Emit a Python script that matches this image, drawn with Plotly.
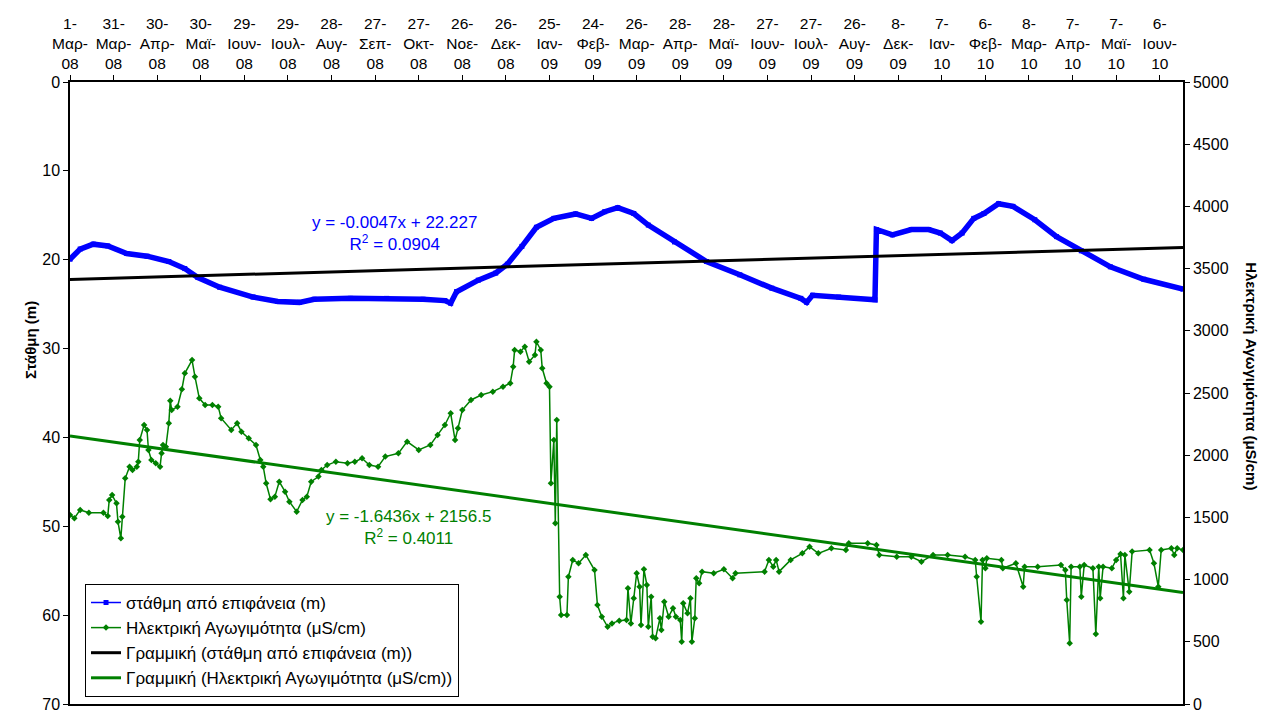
import plotly.graph_objects as go

# x = day index (Excel category index, 1 point per day)
tick_labels = ["1-Μαρ-08", "31-Μαρ-08", "30-Απρ-08", "30-Μαϊ-08", "29-Ιουν-08", "29-Ιουλ-08",
               "28-Αυγ-08", "27-Σεπ-08", "27-Οκτ-08", "26-Νοε-08", "26-Δεκ-08", "25-Ιαν-09",
               "24-Φεβ-09", "26-Μαρ-09", "28-Απρ-09", "28-Μαϊ-09", "27-Ιουν-09", "27-Ιουλ-09",
               "26-Αυγ-09", "8-Δεκ-09", "7-Ιαν-10", "6-Φεβ-10", "8-Μαρ-10", "7-Απρ-10",
               "7-Μαϊ-10", "6-Ιουν-10"]
tick_days = [1, 31, 61, 91, 121, 151, 181, 211, 241, 271, 301, 331, 361,
             391, 421, 451, 481, 511, 541, 571, 601, 631, 661, 691, 721, 751]

level_day = [1, 8, 17, 27, 40, 54, 69, 80, 89, 104, 127, 144, 159, 169, 194, 219, 244, 259,
             263, 267, 282, 294, 302, 312, 322, 334, 349, 360, 369, 378, 389, 399, 417, 439,
             462, 484, 504, 508, 512, 530, 555, 556, 567, 580, 592, 600, 608, 615, 623, 630,
             640, 650, 665, 680, 697, 717, 740, 767]
level_m = [19.95, 18.8, 18.25, 18.45, 19.3, 19.6, 20.2, 21.0, 22.0, 23.1, 24.2, 24.7, 24.8, 24.45,
           24.35, 24.35, 24.45, 24.6, 24.9, 23.6, 22.3, 21.5, 20.5, 18.5, 16.35, 15.35, 14.85,
           15.35, 14.6, 14.15, 14.8, 16.1, 18.0, 20.2, 21.7, 23.2, 24.35, 24.8, 24.0, 24.2, 24.5,
           16.6, 17.2, 16.6, 16.6, 17.0, 17.85, 17.0, 15.35, 14.8, 13.7, 14.0, 15.5, 17.4, 19.0,
           20.8, 22.2, 23.3]

ec_day = [1, 4, 8, 14, 24, 27, 28, 30, 33, 34, 36, 37, 39, 42, 44, 47, 48, 49, 52, 54, 55, 57,
          60, 63, 64, 65, 67, 69, 70, 71, 75, 78, 80, 85, 87, 90, 94, 99, 103, 105, 112, 116,
          119, 124, 129, 132, 134, 136, 139, 142, 145, 149, 152, 157, 161, 164, 167, 172, 174,
          178, 184, 192, 197, 202, 207, 213, 218, 227, 233, 241, 249, 254, 259, 263, 266, 268,
          271, 277, 284, 292, 299, 304, 306, 307, 311, 314, 317, 321, 322, 325, 326, 329, 331,
          332, 334, 335, 336, 338, 339, 343, 344, 347, 351, 356, 362, 364, 367, 371, 374, 379,
          384, 385, 387, 389, 391, 393, 394, 396, 398, 399, 401, 402, 404, 407, 408, 410, 413,
          416, 418, 421, 422, 423, 426, 428, 429, 431, 432, 434, 436, 444, 451, 457, 459, 479,
          482, 485, 487, 489, 497, 505, 510, 516, 525, 535, 537, 550, 556, 558, 570, 580, 587,
          595, 605, 617, 624, 625, 628, 629, 631, 632, 642, 643, 652, 657, 658, 667, 683, 686,
          687, 689, 690, 696, 697, 699, 705, 707, 709, 710, 712, 718, 721, 724, 726, 727, 730,
          732, 744, 747, 750, 752, 759, 761, 763, 767]
ec_us = [1519, 1493, 1560, 1538, 1538, 1511, 1640, 1680, 1613, 1466, 1332, 1506, 1814, 1908,
         1881, 1908, 1948, 2122, 2243, 2203, 2042, 1962, 1935, 1908, 2015, 2082, 2068, 2256, 2438,
         2363, 2390, 2530, 2658, 2765, 2631, 2457, 2404, 2404, 2390, 2297, 2203, 2256, 2189, 2136,
         2082, 1962, 1908, 1774, 1645, 1667, 1787, 1707, 1626, 1546, 1640, 1667, 1787, 1828, 1881,
         1921, 1948, 1935, 1948, 1975, 1921, 1908, 1989, 2015, 2109, 2042, 2082, 2163, 2243, 2337,
         2122, 2216, 2363, 2444, 2484, 2511, 2551, 2578, 2712, 2846, 2832, 2872, 2752, 2806, 2912,
         2846, 2699, 2578, 2551, 1774, 2122, 1453, 2283, 862, 715, 715, 1023, 1158, 1131, 1198,
         1077, 796, 702, 621, 648, 670, 675, 930, 648, 850, 1051, 943, 635, 1083, 957, 621, 862,
         541, 528, 689, 595, 822, 702, 769, 702, 675, 501, 809, 729, 850, 501, 689, 1010, 970,
         1064, 1051, 1083, 1010, 1051, 1064, 1158, 1104, 1158, 1064, 1158, 1211, 1265, 1211,
         1252, 1238, 1292, 1292, 1278, 1198, 1184, 1184, 1144, 1198, 1198, 1184, 1158, 1023, 662,
         1158, 1091, 1171, 1158, 1091, 1131, 943, 1104, 1104, 1117, 1077, 836, 488, 1104, 1104,
         862, 1117, 1091, 563, 1104, 850, 1104, 1091, 1158, 1206, 850, 1198, 903, 1225, 1238,
         1131, 943, 1238, 1252, 1198, 1252, 1238]

# trendline equations as printed on the chart
lvl_slope, lvl_icpt = -0.0047, 22.227
ec_slope, ec_icpt = -1.6436, 2156.5
n_days = 767

FONT = "Liberation Sans, Arial, sans-serif"
BLUE = "#0000FF"
GREEN = "#008000"

fig = go.Figure()

fig.add_trace(go.Scatter(x=level_day, y=level_m, mode="lines+markers", showlegend=False,
                         line=dict(color=BLUE, width=5.5),
                         marker=dict(symbol="square", size=5, color=BLUE)))
fig.add_trace(go.Scatter(x=[None], y=[None], mode="lines+markers", name="στάθμη από επιφάνεια (m)",
                         line=dict(color=BLUE, width=1.5),
                         marker=dict(symbol="square", size=5, color=BLUE)))
fig.add_trace(go.Scatter(x=ec_day, y=ec_us, yaxis="y2", mode="lines+markers",
                         name="Ηλεκτρική Αγωγιμότητα (μS/cm)",
                         line=dict(color=GREEN, width=1.5),
                         marker=dict(symbol="diamond", size=5, color=GREEN)))
fig.add_trace(go.Scatter(x=[1, n_days], y=[lvl_slope * 1 + lvl_icpt, lvl_slope * n_days + lvl_icpt],
                         mode="lines", name="Γραμμική (στάθμη από επιφάνεια (m))",
                         line=dict(color="black", width=3)))
fig.add_trace(go.Scatter(x=[1, n_days], y=[ec_slope * 1 + ec_icpt, ec_slope * n_days + ec_icpt],
                         yaxis="y2", mode="lines", name="Γραμμική (Ηλεκτρική Αγωγιμότητα (μS/cm))",
                         line=dict(color=GREEN, width=3)))

ticktext = [t.replace("-", "-<br>") for t in tick_labels]

# page body has an 8px margin, so the figure is a bit smaller than the window
fig.update_layout(
    width=1263, height=705,
    paper_bgcolor="white", plot_bgcolor="white",
    font=dict(family=FONT, size=16, color="black"),
    margin=dict(l=62, r=88, t=74, b=9),
    xaxis=dict(side="top", range=[1, n_days], tickvals=tick_days, ticktext=ticktext,
               showgrid=False, zeroline=False, showline=True, linecolor="black", linewidth=1.5,
               mirror=True, ticks="outside", ticklen=5, tickcolor="black",
               tickfont=dict(size=15.5), automargin=False),
    yaxis=dict(range=[70, 0], dtick=10, showgrid=False, zeroline=False, showline=True,
               linecolor="black", linewidth=1.5, ticks="outside", ticklen=5, tickcolor="black",
               tickfont=dict(size=16), automargin=False),
    yaxis2=dict(range=[0, 5000], dtick=500, overlaying="y", side="right", showgrid=False,
                zeroline=False, showline=True, linecolor="black", linewidth=1.5,
                ticks="outside", ticklen=5, tickcolor="black", tickfont=dict(size=16),
                automargin=False),
    legend=dict(x=0.0135, y=0.193, xanchor="left", yanchor="top", bgcolor="white",
                bordercolor="black", borderwidth=1, font=dict(size=17),
                tracegroupgap=0, itemwidth=30),
    annotations=[
        dict(text="<b>Στάθμη (m)</b>", xref="paper", yref="paper", x=-0.036, y=0.585,
             xanchor="center", yanchor="middle",
             textangle=-90, showarrow=False, font=dict(size=15)),
        dict(text="<b>Ηλεκτρική Αγωγιμότητα (μS/cm)</b>", xref="paper", yref="paper",
             x=1.062, y=0.527, xanchor="center", yanchor="middle",
             textangle=90, showarrow=False, font=dict(size=15)),
        dict(text="y = -0.0047x + 22.227<br>R<sup>2</sup> = 0.0904", x=224, y=17.0,
             xref="x", yref="y", showarrow=False, align="center",
             font=dict(size=17, color=BLUE)),
        dict(text="y = -1.6436x + 2156.5<br>R<sup>2</sup> = 0.4011", x=234, y=1415,
             xref="x", yref="y2", showarrow=False, align="center",
             font=dict(size=17, color=GREEN)),
    ],
)

fig.write_html("out.html")
